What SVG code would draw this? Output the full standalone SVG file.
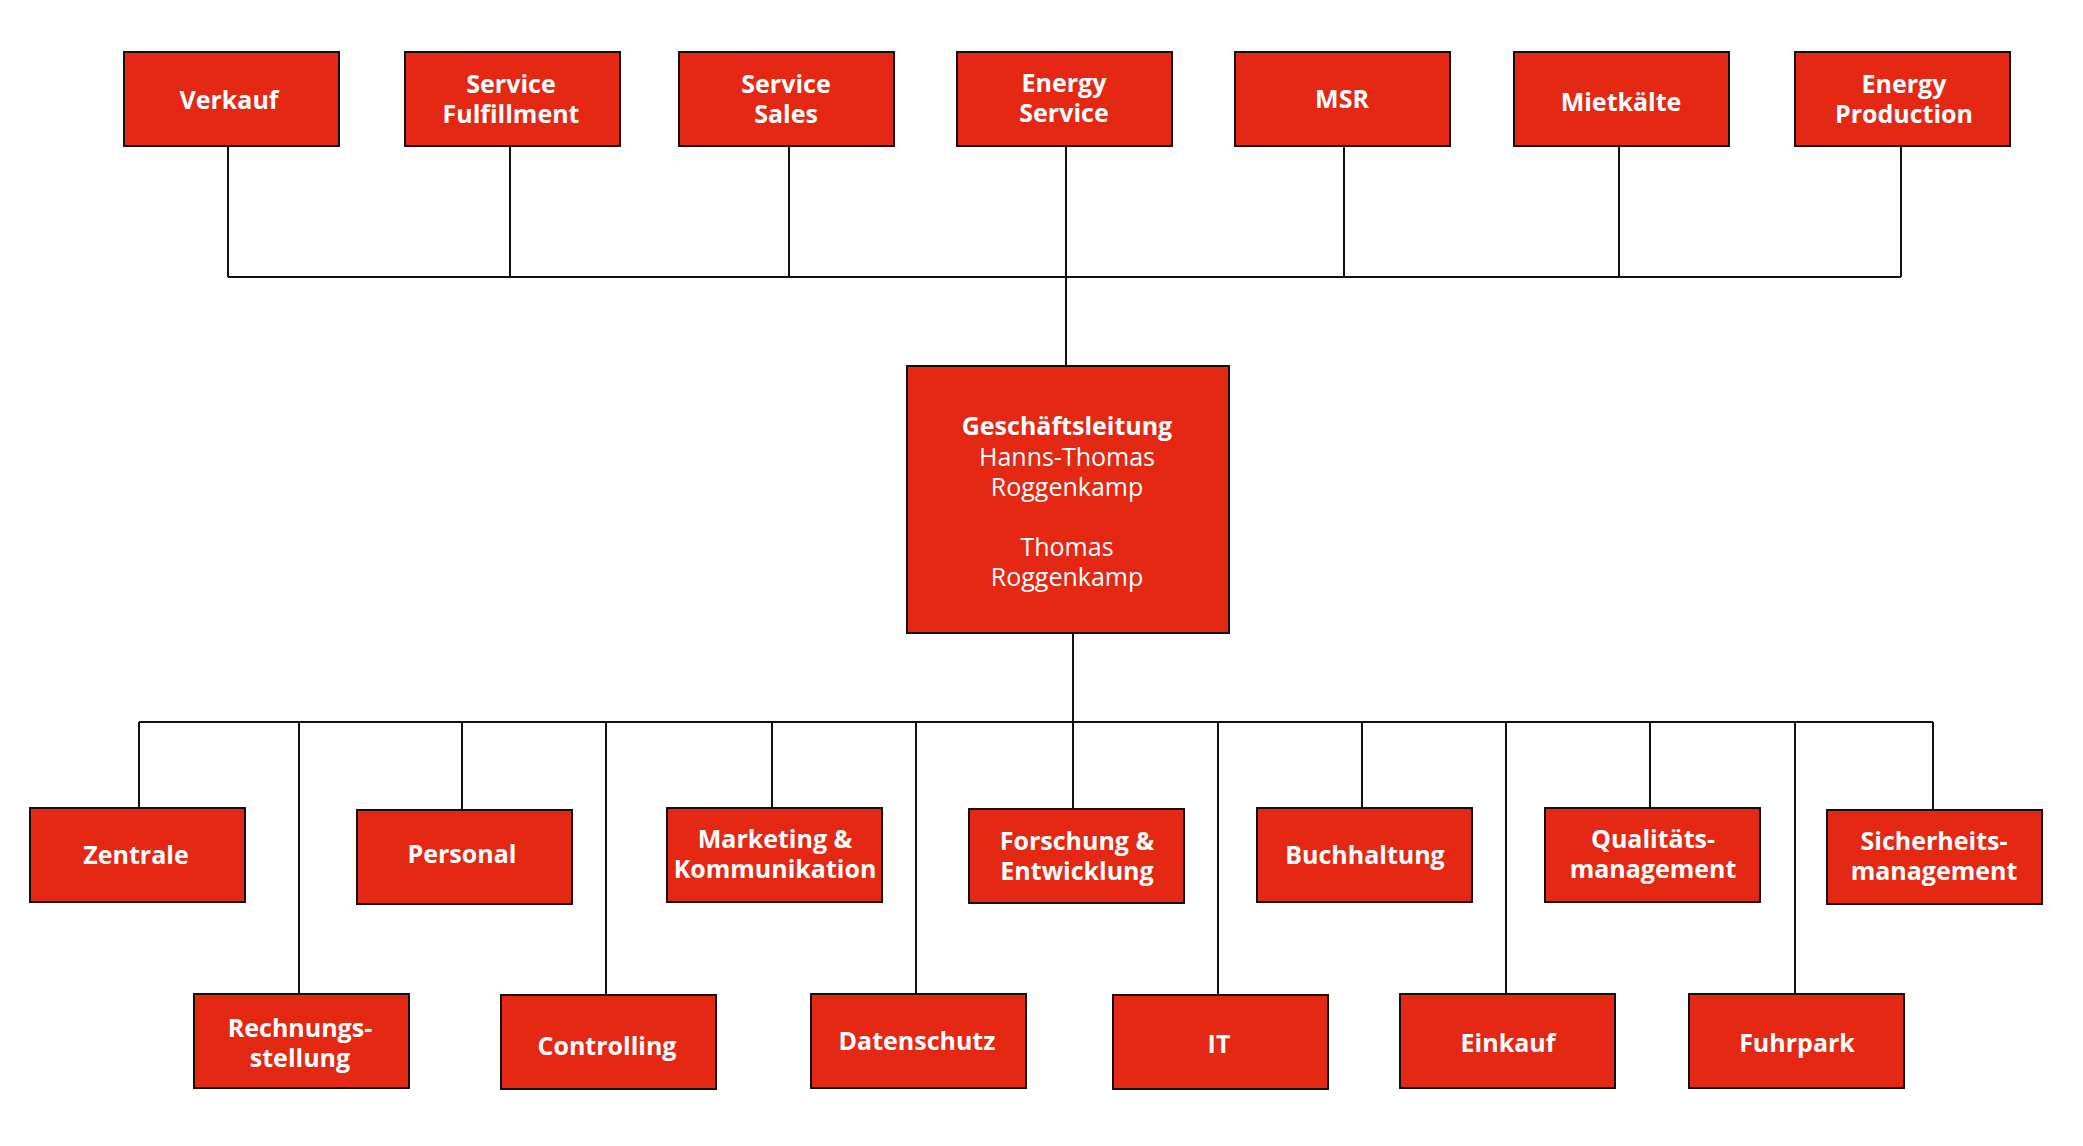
<svg xmlns="http://www.w3.org/2000/svg" width="2083" height="1146" viewBox="0 0 2083 1146">
<style>
.box{fill:#e42814;stroke:#111;stroke-width:2}
.t{font-family:"Open Sans","Noto Sans","Liberation Sans",sans-serif;font-size:25px;fill:#fff;text-anchor:middle}
.b{font-weight:700}
.c{fill:none;stroke:#111;stroke-width:2}
</style>
<rect width="2083" height="1146" fill="#fff"/>
<g id="connectors">
<path class="c" d="M228,146V277M510,146V277M789,146V277M1066,146V366M1344,146V277M1619,146V277M1901,146V277M228,277H1901"/>
<path class="c" d="M1073,633V809M139,722H1933M139,722V808M299,722V994M462,722V810M606,722V995M772,722V808M916,722V994M1218,722V995M1362,722V808M1506,722V994M1650,722V808M1795,722V994M1933,722V810"/>
</g>
<g id="verkauf"><rect class="box" x="124" y="52" width="215" height="94"/><text class="t b" x="229" y="109">Verkauf</text></g>
<g id="service-fulfillment"><rect class="box" x="405" y="52" width="215" height="94"/><text class="t b" x="511" y="93">Service</text><text class="t b" x="511" y="123">Fulfillment</text></g>
<g id="service-sales"><rect class="box" x="679" y="52" width="215" height="94"/><text class="t b" x="786" y="93">Service</text><text class="t b" x="786" y="123">Sales</text></g>
<g id="energy-service"><rect class="box" x="957" y="52" width="215" height="94"/><text class="t b" x="1064" y="92">Energy</text><text class="t b" x="1064" y="122">Service</text></g>
<g id="msr"><rect class="box" x="1235" y="52" width="215" height="94"/><text class="t b" x="1342" y="108">MSR</text></g>
<g id="mietkaelte"><rect class="box" x="1514" y="52" width="215" height="94"/><text class="t b" x="1621" y="111">Mietkälte</text></g>
<g id="energy-production"><rect class="box" x="1795" y="52" width="215" height="94"/><text class="t b" x="1904" y="93">Energy</text><text class="t b" x="1904" y="123">Production</text></g>
<g id="geschaeftsleitung"><rect class="box" x="907" y="366" width="322" height="267"/>
<text class="t b" x="1067" y="435">Geschäftsleitung</text>
<text class="t" x="1067" y="466">Hanns-Thomas</text>
<text class="t" x="1067" y="496">Roggenkamp</text>
<text class="t" x="1067" y="556">Thomas</text>
<text class="t" x="1067" y="586">Roggenkamp</text></g>
<g id="zentrale"><rect class="box" x="30" y="808" width="215" height="94"/><text class="t b" x="136" y="864">Zentrale</text></g>
<g id="rechnungsstellung"><rect class="box" x="194" y="994" width="215" height="94"/><text class="t b" x="300" y="1037">Rechnungs-</text><text class="t b" x="300" y="1067">stellung</text></g>
<g id="personal"><rect class="box" x="357" y="810" width="215" height="94"/><text class="t b" x="462" y="863">Personal</text></g>
<g id="controlling"><rect class="box" x="501" y="995" width="215" height="94"/><text class="t b" x="607" y="1055">Controlling</text></g>
<g id="marketing"><rect class="box" x="667" y="808" width="215" height="94"/><text class="t b" x="775" y="848">Marketing &amp;</text><text class="t b" x="775" y="878">Kommunikation</text></g>
<g id="datenschutz"><rect class="box" x="811" y="994" width="215" height="94"/><text class="t b" x="917" y="1050">Datenschutz</text></g>
<g id="forschung"><rect class="box" x="969" y="809" width="215" height="94"/><text class="t b" x="1077" y="850">Forschung &amp;</text><text class="t b" x="1077" y="880">Entwicklung</text></g>
<g id="it"><rect class="box" x="1113" y="995" width="215" height="94"/><text class="t b" x="1219" y="1053">IT</text></g>
<g id="buchhaltung"><rect class="box" x="1257" y="808" width="215" height="94"/><text class="t b" x="1365" y="864">Buchhaltung</text></g>
<g id="einkauf"><rect class="box" x="1400" y="994" width="215" height="94"/><text class="t b" x="1508" y="1052">Einkauf</text></g>
<g id="qualitaetsmanagement"><rect class="box" x="1545" y="808" width="215" height="94"/><text class="t b" x="1653" y="848">Qualitäts-</text><text class="t b" x="1653" y="878">management</text></g>
<g id="fuhrpark"><rect class="box" x="1689" y="994" width="215" height="94"/><text class="t b" x="1797" y="1052">Fuhrpark</text></g>
<g id="sicherheitsmanagement"><rect class="box" x="1827" y="810" width="215" height="94"/><text class="t b" x="1934" y="850">Sicherheits-</text><text class="t b" x="1934" y="880">management</text></g>
</svg>
